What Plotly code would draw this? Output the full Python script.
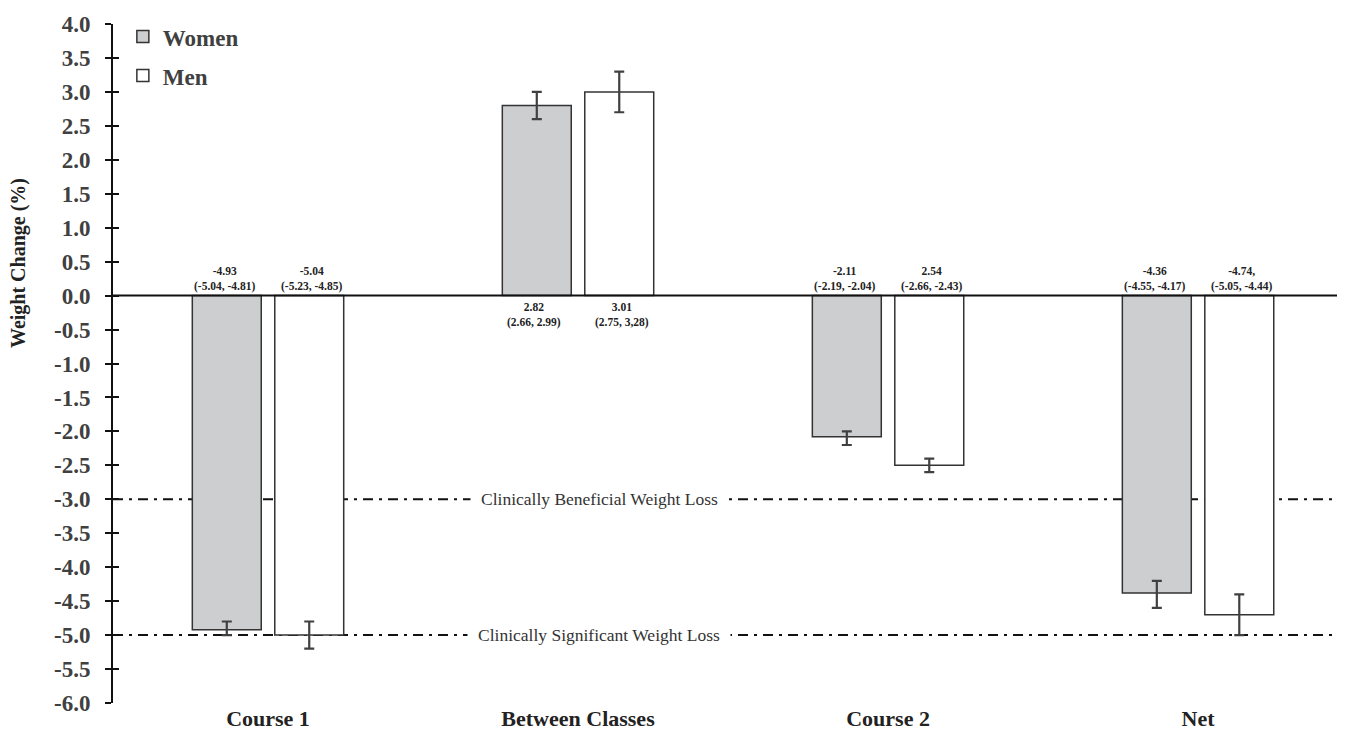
import plotly.graph_objects as go

categories = ["Course 1", "Between Classes", "Course 2", "Net"]
women_vals = [-4.92, 2.80, -2.08, -4.38]
men_vals = [-5.00, 3.00, -2.50, -4.70]
women_hi = [-4.80, 3.00, -2.00, -4.20]
women_lo = [-5.00, 2.60, -2.20, -4.60]
men_hi = [-4.80, 3.30, -2.40, -4.40]
men_lo = [-5.20, 2.70, -2.60, -5.00]
women_labels = ["-4.93<br>(-5.04, -4.81)", "2.82<br>(2.66, 2.99)",
                "-2.11<br>(-2.19, -2.04)", "-4.36<br>(-4.55, -4.17)"]
men_labels = ["-5.04<br>(-5.23, -4.85)", "3.01<br>(2.75, 3,28)",
              "2.54<br>(-2.66, -2.43)", "-4.74,<br>(-5.05, -4.44)"]
ref_lines = [-3.0, -5.0]
ref_texts = ["Clinically Beneficial Weight Loss", "Clinically Significant Weight Loss"]
y_ticks = [4.0 - 0.5 * i for i in range(21)]

SERIF = "Liberation Serif"
DARK = "#404040"

def err(vals, hi, lo):
    return dict(type="data", symmetric=False,
                array=[h - v for h, v in zip(hi, vals)],
                arrayminus=[v - l for v, l in zip(vals, lo)],
                color=DARK, thickness=2.2, width=5)

fig = go.Figure()
fig.add_trace(go.Bar(name="<b>Women</b>", x=categories, y=women_vals,
                     marker=dict(color="#cdcecf", line=dict(color="#333", width=1.5)),
                     error_y=err(women_vals, women_hi, women_lo), legendgroup="w"))
fig.add_trace(go.Bar(name="<b>Men</b>", x=categories, y=men_vals,
                     marker=dict(color="white", line=dict(color="#333", width=1.5)),
                     error_y=err(men_vals, men_hi, men_lo), legendgroup="m"))

shapes = []
annotations = []
shapes.append(dict(type="line", xref="paper", yref="y", x0=0, x1=1, y0=0, y1=0,
                   line=dict(color="#111", width=2)))
for yv, txt in zip(ref_lines, ref_texts):
    shapes.append(dict(type="line", xref="paper", yref="y", x0=0, x1=0.996, y0=yv, y1=yv,
                       line=dict(color="#111", width=2, dash="10px,6px,3px,6px"), layer="below"))
    annotations.append(dict(x=1, xref="x", y=yv, yref="y", text=txt, showarrow=False,
                            xshift=21, font=dict(family=SERIF, size=17.5, color="#333"),
                            bgcolor="white", borderpad=10, xanchor="center", yanchor="middle"))

OFF = 43.75
for i, c in enumerate(categories):
    for lab, val, sh in ((women_labels[i], women_vals[i], -OFF), (men_labels[i], men_vals[i], OFF)):
        neg = val < 0
        annotations.append(dict(x=c, xref="x", y=0, yref="y", text="<b>%s</b>" % lab,
                                showarrow=False, xshift=sh, yshift=1 if neg else -3,
                                yanchor="bottom" if neg else "top",
                                font=dict(family=SERIF, size=11.5, color="#222")))

annotations.append(dict(xref="paper", x=0, xshift=-95, xanchor="center", yref="y", y=0.48,
                        text="<b>Weight Change (%)</b>", textangle=-90, showarrow=False,
                        font=dict(family=SERIF, size=20, color="#222")))

fig.update_layout(
    width=1337, height=737, autosize=False,
    font=dict(family=SERIF),
    margin=dict(l=105, r=0, t=16, b=42),
    plot_bgcolor="white", paper_bgcolor="white",
    barmode="group", bargap=0.468, bargroupgap=0.164,
    showlegend=True,
    legend=dict(x=0.008, y=1.013, xanchor="left", yanchor="top", tracegroupgap=6,
                font=dict(family=SERIF, size=23, color=DARK), itemwidth=30,
                bgcolor="rgba(0,0,0,0)"),
    xaxis=dict(range=[-0.5, 3.474], showline=False, showgrid=False, ticks="",
               tickfont=dict(family=SERIF, size=22, color="#222"),
               tickprefix="<b>", ticksuffix="</b>"),
    yaxis=dict(range=[-6, 4], tickvals=y_ticks, ticktext=["<b>%.1f</b>" % t for t in y_ticks],
               showgrid=False, zeroline=False, showline=True, linecolor="#111", linewidth=2,
               ticks="inside", ticklen=6, tickwidth=2, tickcolor="#111",
               tickfont=dict(family=SERIF, size=23, color=DARK), ticklabelstandoff=16),
    yaxis2=dict(range=[-6, 4], overlaying="y", side="left", anchor="x",
                tickvals=y_ticks, showticklabels=True, ticktext=[" "] * len(y_ticks),
                showgrid=False, zeroline=False,
                showline=True, linecolor="#111", linewidth=2,
                ticks="outside", ticklen=6, tickwidth=2, tickcolor="#111"),
    shapes=shapes, annotations=annotations,
)
fig.add_trace(go.Scatter(x=[categories[0]], y=[0], yaxis="y2", mode="markers",
                         marker=dict(opacity=0), showlegend=False, hoverinfo="skip"))
fig.write_html("out.html")
